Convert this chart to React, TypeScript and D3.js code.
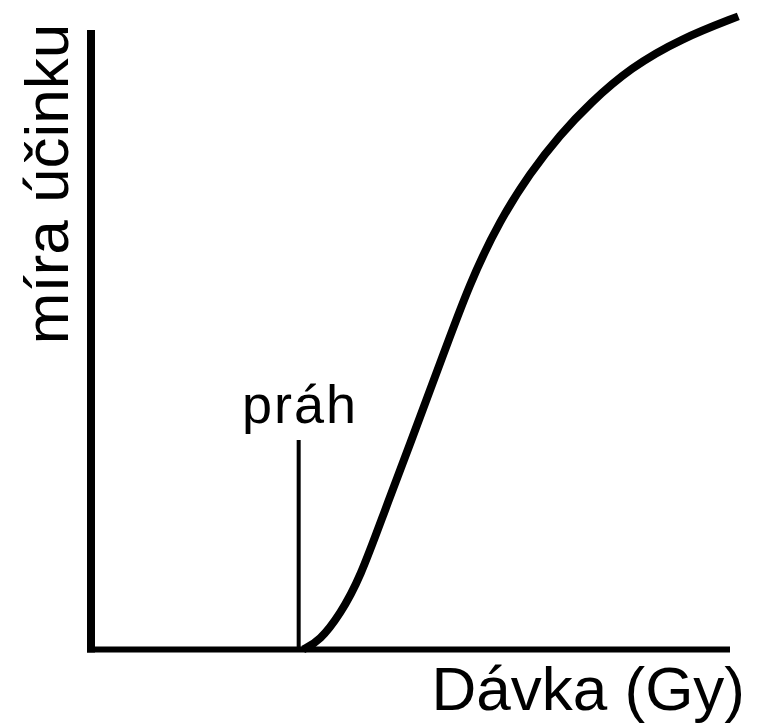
import { useEffect, useRef } from "react";
import * as d3 from "d3";

// dose (arbitrary units) vs. effect
const dose = [3.32, 3.58, 3.9, 4.21, 4.6, 4.99, 5.46, 5.93, 6.4, 6.87, 7.34, 7.81, 8.44, 9.23, 10.13];
const effect = [0, 0.014, 0.057, 0.115, 0.225, 0.331, 0.461, 0.593, 0.693, 0.769, 0.831, 0.882, 0.939, 0.986, 1.022];
const threshold = 3.25;
const thresholdTop = 0.338;
const xLabel = "Dávka (Gy)";
const yLabel = "míra účinku";
const thresholdLabel = "práh";

export default function App() {
  const svgRef = useRef<SVGSVGElement | null>(null);

  useEffect(() => {
    if (!svgRef.current) return;
    const svg = d3.select(svgRef.current);
    svg.selectAll("*").remove();
    const font = "'Liberation Sans', Arial, sans-serif";

    const x = d3.scaleLinear().domain([0, 10]).range([91, 730]);
    const y = d3.scaleLinear().domain([0, 1]).range([649.5, 30]);

    // Y axis
    svg
      .append("line")
      .attr("x1", x(0))
      .attr("x2", x(0))
      .attr("y1", y(1))
      .attr("y2", y(0) + 3)
      .attr("stroke", "#000")
      .attr("stroke-width", 8);
    // X axis
    svg
      .append("line")
      .attr("x1", x(0) - 4)
      .attr("x2", x(10))
      .attr("y1", y(0))
      .attr("y2", y(0))
      .attr("stroke", "#000")
      .attr("stroke-width", 6);

    // threshold marker
    svg
      .append("line")
      .attr("x1", x(threshold))
      .attr("x2", x(threshold))
      .attr("y1", y(thresholdTop))
      .attr("y2", y(0))
      .attr("stroke", "#000")
      .attr("stroke-width", 4);

    const pts = dose.map((d, i) => [d, effect[i]] as [number, number]);
    const line = d3
      .line<[number, number]>()
      .x((d) => x(d[0]))
      .y((d) => y(d[1]))
      .curve(d3.curveBasis);
    svg
      .append("path")
      .attr("d", line(pts))
      .attr("fill", "none")
      .attr("stroke", "#000")
      .attr("stroke-width", 8);

    svg
      .append("text")
      .attr("x", 242)
      .attr("y", 423)
      .attr("font-family", font)
      .attr("font-size", 54)
      .attr("letter-spacing", 2)
      .attr("fill", "#000")
      .text(thresholdLabel);

    svg
      .append("text")
      .attr("x", 745)
      .attr("y", 710)
      .attr("text-anchor", "end")
      .attr("font-family", font)
      .attr("font-size", 62)
      .attr("fill", "#000")
      .text(xLabel);

    svg
      .append("text")
      .attr("transform", "translate(68,184) rotate(-90)")
      .attr("text-anchor", "middle")
      .attr("font-family", font)
      .attr("font-size", 62)
      .attr("fill", "#000")
      .text(yLabel);
  }, []);

  return (
    <svg
      ref={svgRef}
      width={757}
      height={723}
      style={{ position: "absolute", left: 0, top: 0, background: "#fff" }}
    />
  );
}
